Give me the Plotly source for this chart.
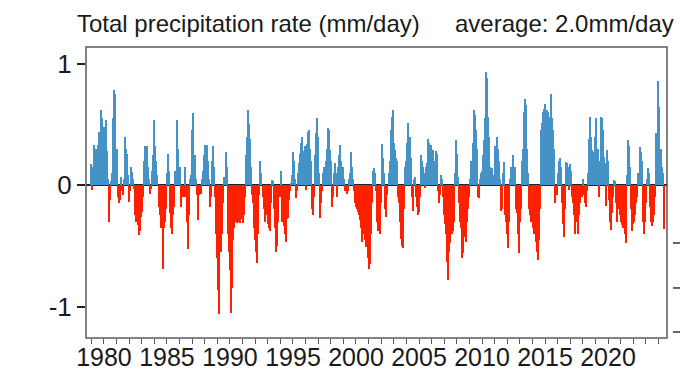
import plotly.graph_objects as go

# Monthly precipitation-rate anomalies (mm/day), one row per year starting Jan 1979
start_year = 1979
anom_1979_1988 = [
    0.17, -0.04, 0.15, 0.33, 0.30, 0.25, 0.33, 0.44, 0.40, 0.62, 0.55, 0.35,
    0.48, 0.40, 0.54, 0.28, 0.05, -0.30, -0.12, 0.03, 0.10, 0.55, 0.78, 0.75,
    0.30, -0.10, -0.15, -0.12, 0.07, -0.05, -0.08, 0.05, 0.40, 0.30, 0.26, 0.08,
    -0.14, -0.05, 0.15, 0.11, 0.05, -0.03, -0.25, -0.30, -0.33, -0.41, -0.38, -0.26,
    -0.22, -0.10, 0.20, 0.32, 0.30, 0.32, 0.15, 0.05, -0.07, -0.03, 0.12, 0.25,
    0.54, 0.32, 0.20, 0.08, -0.18, -0.25, -0.35, -0.30, -0.69, -0.35, -0.30, -0.20,
    0.10, 0.26, 0.12, -0.23, -0.35, -0.40, -0.25, -0.18, 0.12, 0.10, 0.54, 0.30,
    0.15, -0.18, -0.10, -0.05, -0.10, 0.15, -0.10, -0.30, -0.53, -0.25, 0.05, 0.08,
    0.45, 0.59, 0.25, 0.25, 0.05, -0.08, -0.29, -0.08, -0.07, 0.05, 0.12, 0.25,
    0.33, 0.33, 0.33, 0.20, 0.05, -0.18, -0.10, 0.20, 0.32, 0.15, -0.10, -0.40,
]
anom_1989_1998 = [
    -0.60, -0.86, -1.06, -0.55, -0.40, -0.15, 0.07, 0.05, 0.27, 0.15, -0.40, -0.55,
    -0.70, -1.05, -0.85, -0.45, -0.35, -0.30, -0.30, -0.31, -0.30, -0.30, -0.31, -0.28,
    -0.31, -0.25, -0.10, 0.25, 0.40, 0.62, 0.50, 0.38, 0.15, -0.08, -0.15, -0.35,
    -0.45, -0.55, -0.64, -0.40, -0.08, 0.20, 0.10, -0.10, -0.20, -0.30, -0.18, -0.25,
    -0.32, -0.35, -0.38, -0.15, 0.04, 0.03, -0.20, -0.35, -0.55, -0.50, -0.30, -0.10,
    -0.10, 0.12, -0.30, -0.34, -0.40, -0.47, -0.28, -0.27, -0.12, -0.05, 0.02, 0.08,
    0.27, 0.20, 0.05, -0.11, -0.05, 0.10, 0.18, 0.26, 0.35, 0.40, 0.28, 0.32,
    -0.04, 0.34, 0.44, 0.45, 0.30, 0.20, -0.20, -0.25, -0.10, 0.25, 0.43, 0.55,
    0.40, 0.10, -0.27, -0.15, -0.05, 0.10, 0.15, 0.20, 0.30, 0.47, 0.45, 0.29,
    0.20, -0.18, -0.10, 0.10, 0.18, 0.10, -0.10, 0.15, 0.25, 0.33, 0.20, 0.15,
]
anom_1999_2008 = [
    0.15, 0.05, -0.05, -0.07, -0.05, 0.05, 0.10, 0.27, 0.15, 0.05, -0.05, -0.15,
    -0.18, -0.20, -0.22, -0.25, -0.29, -0.35, -0.47, -0.40, -0.37, -0.45, -0.51, -0.60,
    -0.69, -0.65, -0.40, -0.15, 0.12, 0.14, 0.10, -0.05, -0.30, -0.38, -0.30, -0.40,
    -0.15, 0.34, 0.22, 0.10, -0.20, -0.26, -0.08, 0.10, 0.20, 0.45, 0.56, 0.62,
    0.35, 0.29, 0.22, 0.20, -0.10, -0.15, -0.30, -0.44, -0.50, -0.52, -0.20, 0.15,
    0.20, 0.35, 0.51, 0.40, 0.22, -0.10, -0.21, 0.05, 0.07, -0.10, -0.18, -0.25,
    -0.22, -0.10, 0.25, 0.20, 0.15, 0.10, -0.02, 0.15, 0.18, 0.38, 0.35, 0.33,
    0.28, 0.29, 0.20, 0.15, 0.28, 0.26, -0.05, -0.15, -0.08, 0.08, 0.05, -0.10,
    -0.25, -0.32, -0.40, -0.63, -0.78, -0.55, -0.48, -0.40, -0.38, -0.30, 0.10, 0.37,
    0.26, 0.07, -0.15, -0.30, -0.35, -0.60, -0.56, -0.43, -0.40, -0.47, -0.30, -0.20,
]
anom_2009_2018 = [
    -0.10, 0.05, 0.20, 0.35, 0.62, 0.58, 0.45, 0.30, -0.10, -0.11, 0.05, 0.10,
    0.12, 0.25, 0.37, 0.55, 0.93, 0.88, 0.56, 0.40, 0.15, 0.10, 0.14, 0.08,
    0.32, 0.28, 0.40, 0.30, 0.20, 0.05, -0.21, -0.20, 0.10, 0.19, -0.25, -0.30,
    -0.40, -0.52, -0.30, 0.05, 0.15, 0.10, 0.25, 0.15, -0.20, -0.23, -0.40, -0.56,
    -0.30, -0.20, 0.20, 0.30, 0.60, 0.71, 0.66, 0.30, 0.10, -0.20, -0.25, -0.30,
    -0.29, -0.35, -0.40, -0.47, -0.55, -0.62, -0.45, -0.20, 0.45, 0.51, 0.60, 0.63,
    0.67, 0.55, 0.62, 0.60, 0.56, 0.50, 0.75, 0.55, 0.45, 0.30, -0.15, -0.08,
    0.10, 0.20, 0.22, 0.15, -0.15, -0.32, -0.43, -0.20, 0.19, 0.18, 0.15, -0.04,
    0.17, 0.12, -0.10, -0.15, -0.25, -0.40, -0.30, -0.40, -0.25, -0.15, -0.05, -0.10,
    0.05, -0.08, -0.15, -0.18, -0.05, 0.10, 0.38, 0.56, 0.40, 0.29, 0.25, 0.27,
]
anom_2019_2024 = [
    0.40, 0.55, 0.30, -0.10, 0.20, 0.56, 0.55, 0.45, 0.23, 0.18, -0.17, 0.29,
    0.20, -0.12, -0.30, -0.37, -0.23, -0.10, 0.04, 0.03, -0.15, -0.30, -0.20, -0.25,
    -0.30, -0.33, -0.35, -0.25, -0.40, -0.48, 0.08, 0.37, 0.32, 0.15, -0.20, -0.38,
    -0.32, -0.30, -0.25, -0.15, -0.10, 0.10, 0.31, 0.27, 0.20, -0.30, -0.40, -0.30,
    -0.15, 0.05, 0.14, 0.10, -0.18, -0.30, -0.34, -0.30, -0.25, -0.10, 0.43, 0.30,
    0.86, 0.64, 0.30, 0.15, 0.10, -0.36,
]
year_ticks = [1980, 1985, 1990, 1995, 2000, 2005, 2010, 2015, 2020]
y_ticks = [-1, 0, 1]
y_ticklabels = ["-1", "0", "1"]
title_left = "Total precipitation rate (mm/day)"
title_right = "average: 2.0mm/day"

values = anom_1979_1988 + anom_1989_1998 + anom_1999_2008 + anom_2009_2018 + anom_2019_2024
x = [start_year + i / 12 for i in range(len(values))]
colors = ["#4592c6" if v >= 0 else "#ff2000" for v in values]

FONT = "Liberation Sans, Arial, sans-serif"
AX = "#5a5a5a"
TXT = "#1a1a1a"

fig = go.Figure(go.Bar(x=x, y=values, marker=dict(color=colors, line=dict(width=0)),
                       width=1 / 12))

fig.update_layout(
    width=680, height=373,
    margin=dict(l=86, r=13, t=47, b=35, autoexpand=False),
    paper_bgcolor="white", plot_bgcolor="white",
    bargap=0, showlegend=False,
    font=dict(family=FONT, color=TXT),
)
fig.update_xaxes(
    range=[1978.575, 2024.68], tickvals=year_ticks, ticks="outside", ticklen=5,
    tickcolor=AX, tickwidth=1, showgrid=False, zeroline=False, automargin=False,
    showline=False, ticklabelstandoff=-8,
    tickfont=dict(size=25, family=FONT, color=TXT),
    minor=dict(dtick=1, ticks="outside", ticklen=5, tickcolor=AX, showgrid=False),
)
fig.update_yaxes(
    range=[-1.259, 1.137], tickvals=y_ticks, ticktext=y_ticklabels,
    ticks="outside", ticklen=8, tickcolor="#222", tickwidth=1.5, showgrid=False,
    zeroline=True, zerolinecolor="#222", zerolinewidth=2, automargin=False,
    showline=False,
    tickfont=dict(size=26, family=FONT, color=TXT),
)
# plot frame
fig.add_shape(type="rect", xref="paper", yref="paper", x0=0, x1=1, y0=0, y1=1,
              line=dict(color=AX, width=1.5), layer="above")
fig.add_annotation(text=title_left, xref="paper", yref="paper", x=-0.019, y=1.0,
                   xanchor="left", yanchor="bottom", yshift=8, showarrow=False,
                   font=dict(size=24, family=FONT, color=TXT))
fig.add_annotation(text=title_right, xref="paper", yref="paper", x=1.016, y=1.0,
                   xanchor="right", yanchor="bottom", yshift=8, showarrow=False,
                   font=dict(size=24, family=FONT, color=TXT))
# small tick dashes of the neighbouring panel visible at the right edge
for yp in [0.3265, 0.172, 0.0206]:
    fig.add_shape(type="line", xref="paper", yref="paper", x0=1.0103, x1=1.0224,
                  y0=yp, y1=yp, line=dict(color="#333", width=1.5))

fig.write_html("out.html", config={"displayModeBar": False},
               post_script="document.body.style.margin='0';document.body.style.overflow='hidden';")
